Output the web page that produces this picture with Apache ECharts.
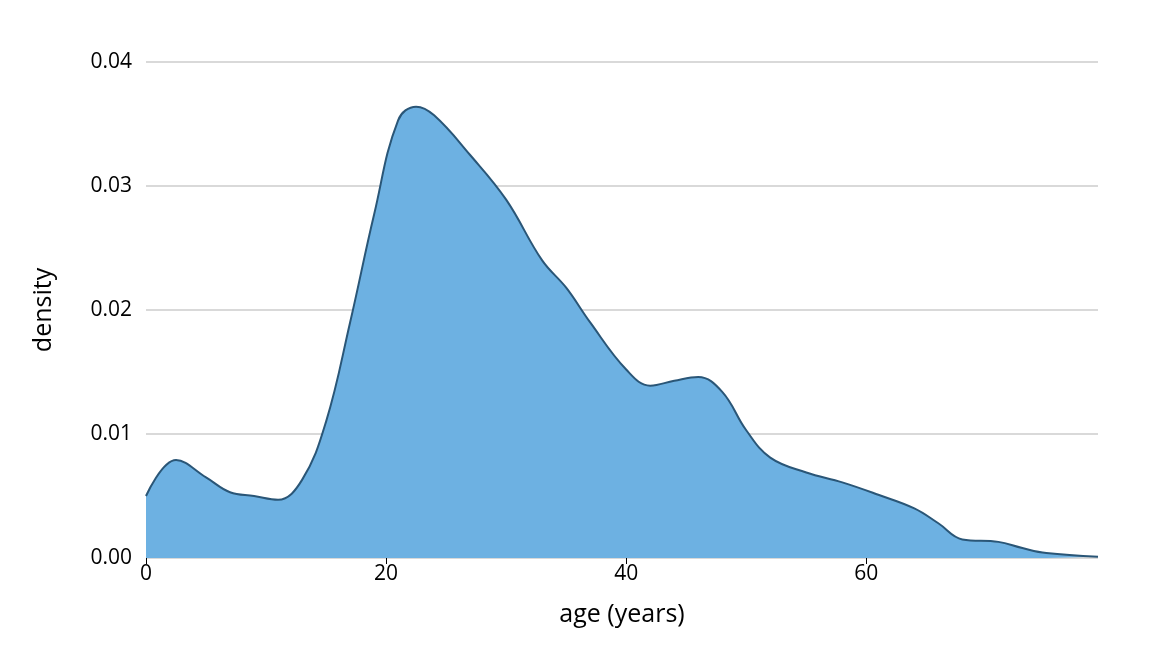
<!DOCTYPE html>
<html><head><meta charset="utf-8">
<script src="https://cdn.jsdelivr.net/npm/echarts@6/dist/echarts.min.js"></script>
<style>html,body{margin:0;padding:0;background:#fff}#c{width:1168px;height:672px}</style>
</head><body><div id="c"></div>
<script>
const ages = [0,2.5,5,7,9,11,13,15,17,19,21,22.5,24,27,30,33,35,37,40,42,44,46,48,50,52,55,58,61,64,66,68,71,73,75,79.3];
const density = [0.005,0.0079,0.0065,0.0053,0.0050,0.0047,0.0063,0.011,0.019,0.0277,0.0353,0.0364,0.0357,0.0325,0.0289,0.024,0.0218,0.019,0.0152,0.0139,0.0143,0.0146,0.0134,0.0103,0.0081,0.0069,0.0061,0.0051,0.004,0.0028,0.0015,0.0013,0.0008,0.0004,0.0001];
const xTicks = [0,20,40,60];
const font = 'Open Sans';
const chart = echarts.init(document.getElementById('c'));
chart.setOption({
  animation:false,
  grid:{left:146,right:70,top:62,bottom:114},
  xAxis:{type:'value',min:0,max:79.3,
    name:'age (years)',nameLocation:'middle',nameGap:44,
    nameTextStyle:{fontFamily:font,fontSize:25,color:'#000'},
    axisLine:{show:false},axisTick:{show:true,length:6,lineStyle:{color:'#000'},customValues:xTicks},
    axisLabel:{fontFamily:font,fontSize:21,color:'#000',margin:6,customValues:xTicks},
    splitLine:{show:false}},
  yAxis:{type:'value',min:0,max:0.04,interval:0.01,
    name:'density',nameLocation:'middle',nameGap:90,nameRotate:90,
    nameTextStyle:{fontFamily:font,fontSize:25,color:'#000'},
    axisLine:{show:false},axisTick:{show:false},
    axisLabel:{fontFamily:font,fontSize:21,color:'#000',margin:14,formatter:v=>v.toFixed(2)},
    splitLine:{lineStyle:{color:'#d9d9d9',width:2}}},
  series:[{type:'line',data:ages.map((a,i)=>[a,density[i]]),smooth:0.4,symbol:'none',
    lineStyle:{color:'#2a5677',width:2},areaStyle:{color:'#6db1e2',opacity:1}}]
});
</script></body></html>
